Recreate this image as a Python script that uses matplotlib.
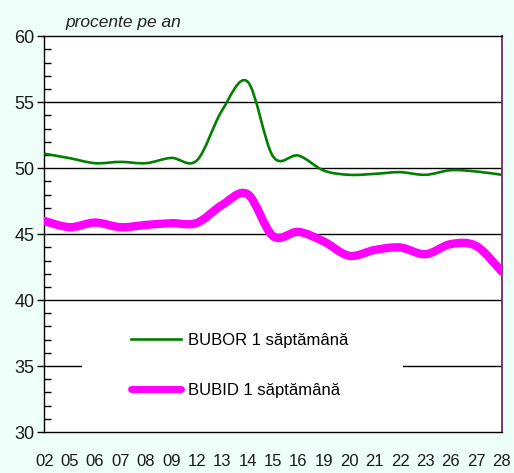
import numpy as np
import matplotlib
matplotlib.use("Agg")
import matplotlib.pyplot as plt
from matplotlib.path import Path
from matplotlib.patches import PathPatch, Rectangle
from matplotlib.lines import Line2D

plt.rcParams['font.family'] = ['Liberation Sans', 'DejaVu Sans']

# zilele (etichete axa x)
days = ['02', '05', '06', '07', '08', '09', '12', '13', '14', '15',
        '16', '19', '20', '21', '22', '23', '26', '27', '28']

# BUBOR 1 saptamana
bubor = [51.1, 50.76, 50.38, 50.48, 50.38, 50.78, 50.58, 54.4, 56.56, 50.9,
         50.96, 49.82, 49.5, 49.57, 49.7, 49.5, 49.85, 49.75, 49.5]
# BUBID 1 saptamana
bubid = [46.0, 45.53, 45.88, 45.53, 45.7, 45.83, 45.85, 47.22, 48.03, 44.85,
         45.17, 44.44, 43.36, 43.8, 43.99, 43.48, 44.25, 44.1, 42.17]

bg = '#eefffa'


def smooth_path(xs, ys):
    # bezier netezit ca in excel (catmull-rom)
    p = np.column_stack([xs, ys]).astype(float)
    ext = np.vstack([p[0], p, p[-1]])
    verts = [p[0]]
    codes = [Path.MOVETO]
    for i in range(len(p) - 1):
        p0, p1, p2, p3 = ext[i], ext[i + 1], ext[i + 2], ext[i + 3]
        c1 = p1 + (p2 - p0) / 6.0
        c2 = p2 - (p3 - p1) / 6.0
        verts += [c1, c2, p2]
        codes += [Path.CURVE4] * 3
    return Path(verts, codes)


fig = plt.figure(figsize=(5.14, 4.73), dpi=100, facecolor=bg)
ax = fig.add_axes([44.3 / 514, 1 - 432 / 473, 457.4 / 514, 395.7 / 473])
ax.set_facecolor('white')

x = np.arange(len(days))
ax.set_xlim(0, len(days) - 1)
ax.set_ylim(30, 60)

for yy in range(35, 60, 5):
    ax.axhline(yy, color='black', lw=1.0, zorder=1)

# fundal alb sub legenda
ax.add_patch(Rectangle((0.0824, 0.05), 0.702, 0.23, transform=ax.transAxes,
                       facecolor='white', edgecolor='none', zorder=2))

ax.add_patch(PathPatch(smooth_path(x, bubor), facecolor='none',
                       edgecolor='#008000', lw=1.9, zorder=3))
ax.add_patch(PathPatch(smooth_path(x, bubid), facecolor='none',
                       edgecolor='#ff00ff', lw=6.0, zorder=3,
                       capstyle='round', joinstyle='round'))

ax.set_xticks(x)
ax.set_xticklabels(days)
ax.tick_params(axis='x', length=0, pad=16, labelsize=12, labelcolor='#1a1a1a')
ax.set_yticks(np.arange(30, 61, 5))
ax.set_yticks(np.arange(30, 61, 1), minor=True)
ax.tick_params(axis='y', which='major', direction='out', length=5, width=1,
               pad=2, labelsize=13, labelcolor='#1a1a1a')
ax.tick_params(axis='y', which='minor', direction='in', length=5, width=1)

for s in ['left', 'bottom', 'top']:
    ax.spines[s].set_color('black')
    ax.spines[s].set_linewidth(1.0)
ax.spines['right'].set_color('#6e2a6e')
ax.spines['right'].set_linewidth(1.3)

handles = [Line2D([], [], color='#008000', lw=1.9),
           Line2D([], [], color='#ff00ff', lw=5.0, solid_capstyle='round')]
ax.legend(handles, ['BUBOR 1 săptămână', 'BUBID 1 săptămână'],
          loc='center left', bbox_to_anchor=(0.19, 0.168), frameon=False,
          fontsize=12, handlelength=3.0, handletextpad=0.4,
          labelspacing=2.1, borderpad=0, borderaxespad=0)

fig.text(65 / 514, 1 - 27 / 473, 'procente pe an', fontsize=12.5,
         style='italic', va='baseline', ha='left', color='#222222')

fig.savefig('out.png', dpi=100, facecolor=bg)
